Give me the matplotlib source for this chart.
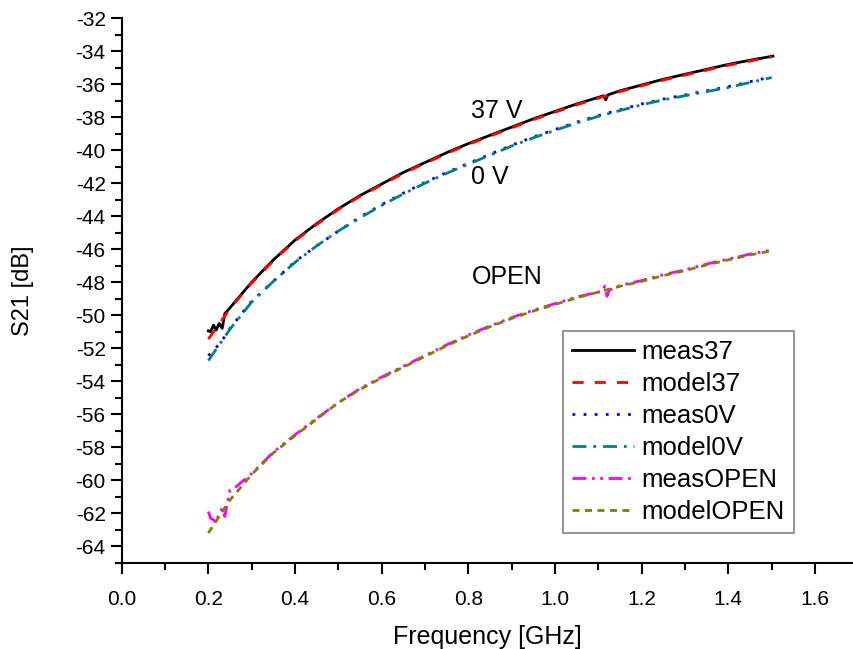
import matplotlib.pyplot as plt
from matplotlib.ticker import MultipleLocator

plt.rcParams['font.family'] = ['Liberation Sans', 'DejaVu Sans']
plt.rcParams['axes.unicode_minus'] = False

# frequency grid of the model curves (GHz)
f_model = [0.20, 0.25, 0.30, 0.35, 0.40, 0.45, 0.50, 0.55, 0.60, 0.65, 0.70, 0.75, 0.80, 0.85,
           0.90, 0.95, 1.00, 1.05, 1.10, 1.15, 1.20, 1.25, 1.30, 1.35, 1.40, 1.45, 1.50]

s_model37 = [-51.45, -49.6, -48.05, -46.7, -45.5, -44.5, -43.6, -42.8, -42.1, -41.4, -40.8,
             -40.2, -39.65, -39.15, -38.65, -38.15, -37.7, -37.25, -36.85, -36.45, -36.1,
             -35.75, -35.45, -35.15, -34.85, -34.6, -34.35]

s_model0 = [-52.75, -50.85, -49.2, -47.95, -46.8, -45.8, -44.9, -44.1, -43.35, -42.65, -42.0,
            -41.4, -40.85, -40.3, -39.75, -39.25, -38.8, -38.35, -37.95, -37.6, -37.25,
            -36.95, -36.7, -36.45, -36.2, -35.9, -35.6]

s_modelOPEN = [-63.2, -61.2, -59.65, -58.35, -57.3, -56.3, -55.3, -54.5, -53.8, -53.15, -52.5,
               -51.85, -51.25, -50.7, -50.2, -49.75, -49.35, -48.95, -48.6, -48.25, -47.95,
               -47.6, -47.3, -46.95, -46.65, -46.35, -46.1]

# measured, 37 V bias
f_meas37 = [0.200, 0.205, 0.212, 0.218, 0.225, 0.232, 0.238, 0.25, 0.30, 0.35, 0.40, 0.45,
            0.50, 0.55, 0.60, 0.65, 0.70, 0.75, 0.80, 0.85, 0.90, 0.95, 1.00, 1.05, 1.10,
            1.112, 1.117, 1.122, 1.15, 1.20, 1.25, 1.30, 1.35, 1.40, 1.45, 1.503]
s_meas37 = [-50.95, -51.0, -50.6, -50.9, -50.5, -50.8, -49.9, -49.55, -48.0, -46.65, -45.45,
            -44.45, -43.55, -42.75, -42.05, -41.35, -40.75, -40.15, -39.6, -39.1, -38.6,
            -38.1, -37.65, -37.2, -36.8, -36.7, -36.95, -36.65, -36.4, -36.05, -35.7, -35.4,
            -35.1, -34.8, -34.55, -34.3]

# measured, 0 V bias
f_meas0 = [0.20, 0.21, 0.22, 0.235, 0.25, 0.30, 0.35, 0.40, 0.45, 0.50, 0.55, 0.60, 0.65,
           0.70, 0.75, 0.80, 0.85, 0.90, 0.95, 1.00, 1.05, 1.10, 1.15, 1.20, 1.25, 1.30,
           1.35, 1.40, 1.45, 1.50]
s_meas0 = [-52.45, -52.2, -51.9, -51.4, -50.8, -49.15, -47.95, -46.75, -45.8, -44.9, -44.05,
           -43.3, -42.6, -41.95, -41.35, -40.8, -40.25, -39.7, -39.2, -38.75, -38.3, -37.9,
           -37.55, -37.2, -36.9, -36.65, -36.4, -36.15, -35.85, -35.55]

# measured, open
f_measOPEN = [0.200, 0.205, 0.212, 0.218, 0.225, 0.232, 0.238, 0.245, 0.25, 0.26, 0.273,
              0.30, 0.35, 0.40, 0.45, 0.50, 0.55, 0.60, 0.65, 0.70, 0.75, 0.80, 0.85, 0.90,
              0.95, 1.00, 1.05, 1.10, 1.11, 1.115, 1.12, 1.125, 1.15, 1.20, 1.25, 1.30,
              1.35, 1.40, 1.45, 1.50]
s_measOPEN = [-61.9, -62.3, -62.4, -62.6, -62.0, -61.7, -62.2, -61.2, -60.6, -60.5, -60.2,
              -59.6, -58.3, -57.25, -56.25, -55.3, -54.45, -53.75, -53.1, -52.45, -51.8,
              -51.2, -50.65, -50.15, -49.7, -49.3, -48.9, -48.6, -48.55, -48.25, -48.85,
              -48.5, -48.2, -47.9, -47.55, -47.25, -46.9, -46.6, -46.3, -46.05]

curve_labels = ['37 V', '0 V', 'OPEN']
label_y = [-37.62, -41.65, -47.7]

fig = plt.figure(figsize=(8.54, 6.49), dpi=100)
ax = fig.add_axes([0.1425, 0.133, 0.8575, 0.839])

ax.plot(f_meas37, s_meas37, color='black', lw=2.0, ls='-', label='meas37')
ax.plot(f_model, s_model37, color='red', lw=2.0, ls=(0, (4, 4)), label='model37')
ax.plot(f_meas0, s_meas0, color='blue', lw=2.0, ls=(0, (1, 3)), label='meas0V')
ax.plot(f_model, s_model0, color='#008080', lw=2.0, ls=(0, (5, 2.5, 1, 2.5)), label='model0V')
ax.plot(f_measOPEN, s_measOPEN, color='magenta', lw=2.0,
        ls=(0, (5, 2, 1, 2, 1, 2)), label='measOPEN')
ax.plot(f_model, s_modelOPEN, color='#808000', lw=2.0, ls=(0, (2.5, 2)), label='modelOPEN')

for txt, y in zip(curve_labels, label_y):
    ax.text(0.807, y, txt, fontsize=18, va='center', ha='left')

ax.set_xlim(0, 1.69)
ax.set_ylim(-65, -32)
ax.set_xticks([0.0, 0.2, 0.4, 0.6, 0.8, 1.0, 1.2, 1.4, 1.6])
ax.set_xticklabels(['0.0', '0.2', '0.4', '0.6', '0.8', '1.0', '1.2', '1.4', '1.6'])
ax.xaxis.set_minor_locator(MultipleLocator(0.1))
ax.yaxis.set_major_locator(MultipleLocator(2))
ax.yaxis.set_minor_locator(MultipleLocator(1))
ax.tick_params(which='major', direction='out', length=8, width=1.5, labelsize=15)
ax.tick_params(axis='x', which='major', pad=12)
ax.tick_params(which='minor', direction='out', length=5, width=1.5)
ax.spines['top'].set_visible(False)
ax.spines['right'].set_visible(False)
ax.spines['left'].set_linewidth(1.5)
ax.spines['bottom'].set_linewidth(1.5)

ax.set_xlabel('Frequency [GHz]', fontsize=18, labelpad=11)
ax.set_ylabel('S21 [dB]', fontsize=17, labelpad=30)

leg = ax.legend(loc='upper left', bbox_to_anchor=(0.603, 0.4256), borderaxespad=0,
                fontsize=18.5, handlelength=2.4, fancybox=False, framealpha=1,
                edgecolor='gray', labelspacing=0.31, handletextpad=0.3,
                borderpad=0.35)
leg.get_frame().set_linewidth(1.2)

plt.savefig('out.png', dpi=100)
